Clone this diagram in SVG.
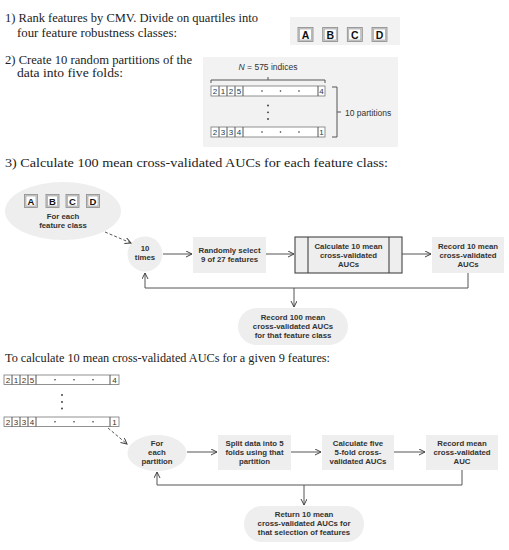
<svg xmlns="http://www.w3.org/2000/svg" width="509" height="550" viewBox="0 0 509 550">
<defs>
<marker id="ah" markerWidth="8" markerHeight="8" refX="6" refY="3" orient="auto" markerUnits="userSpaceOnUse">
<path d="M0,0 L6,3 L0,6" fill="none" stroke="#444" stroke-width="1"/>
</marker>
<style>
.serif{font-family:"Liberation Serif","DejaVu Serif",serif;font-size:12px;fill:#222}
.lbl{font-family:"Liberation Sans",Arial,sans-serif;font-size:7.8px;font-weight:bold;fill:#333;text-anchor:middle}
.sm{font-family:"Liberation Sans",Arial,sans-serif;font-size:8.5px;fill:#333}
.dig{font-family:"Liberation Sans",Arial,sans-serif;font-size:8px;fill:#333;text-anchor:middle}
.let{font-family:"Liberation Sans",Arial,sans-serif;font-weight:bold;fill:#111;text-anchor:middle}
.node{fill:#eeeeee}
.ln{fill:none;stroke:#555;stroke-width:1}
.cell{fill:#fff;stroke:#777;stroke-width:0.8}
.obox{fill:#cfcfcf;stroke:#8a8a8a;stroke-width:0.8}
.ibox{fill:#fff;stroke:#999;stroke-width:0.6}
</style>
</defs>
<rect width="509" height="550" fill="#fff"/>

<!-- headings -->
<text class="serif" x="5" y="22" textLength="253" lengthAdjust="spacingAndGlyphs">1)  Rank features by CMV. Divide on quartiles into</text>
<text class="serif" x="17" y="37" textLength="160" lengthAdjust="spacingAndGlyphs">four feature robustness classes:</text>
<text class="serif" x="5" y="64" textLength="187" lengthAdjust="spacingAndGlyphs">2)  Create 10 random partitions of the</text>
<text class="serif" x="17" y="77" textLength="106" lengthAdjust="spacingAndGlyphs">data into five folds:</text>
<text class="serif" x="5" y="167" textLength="383" lengthAdjust="spacingAndGlyphs">3) Calculate 100 mean cross-validated AUCs for each feature class:</text>
<text class="serif" x="5" y="362" textLength="325" lengthAdjust="spacingAndGlyphs">To calculate 10 mean cross-validated AUCs for a given 9 features:</text>

<!-- section 1 classes -->
<g id="classes">
<rect x="290" y="17" width="110" height="28" fill="#f2f2f2"/>
<rect class="obox" x="298" y="27.5" width="15" height="14"/><rect class="ibox" x="299.5" y="29" width="12" height="11"/><text class="let" x="305.5" y="38.6" font-size="10.5">A</text>
<rect class="obox" x="322.7" y="27.5" width="15" height="14"/><rect class="ibox" x="324.2" y="29" width="12" height="11"/><text class="let" x="330.2" y="38.6" font-size="10.5">B</text>
<rect class="obox" x="347.3" y="27.5" width="15" height="14"/><rect class="ibox" x="348.8" y="29" width="12" height="11"/><text class="let" x="354.8" y="38.6" font-size="10.5">C</text>
<rect class="obox" x="372" y="27.5" width="15" height="14"/><rect class="ibox" x="373.5" y="29" width="12" height="11"/><text class="let" x="379.5" y="38.6" font-size="10.5">D</text>
</g>

<!-- section 2 partitions -->
<g id="partitions">
<rect x="203" y="57" width="195" height="90" fill="#f2f2f2"/>
<text class="sm" x="268" y="70" text-anchor="middle"><tspan font-style="italic">N</tspan> = 575 indices</text>
<path class="ln" d="M211,83 L211,80 L325,80 L325,83 M268,80 L268,77" stroke="#888" stroke-width="0.8"/>
<g>
<rect class="cell" x="211" y="86" width="114" height="10"/>
<path class="ln" d="M219,86 V96 M227,86 V96 M235,86 V96 M243,86 V96 M318,86 V96" stroke="#777" stroke-width="0.8"/>
<text class="dig" x="215" y="94">2</text><text class="dig" x="223" y="94">1</text><text class="dig" x="231" y="94">2</text><text class="dig" x="239" y="94">5</text><text class="dig" x="321.5" y="94">4</text>
<circle cx="262" cy="91" r="0.8" fill="#333"/><circle cx="280.5" cy="91" r="0.8" fill="#333"/><circle cx="299" cy="91" r="0.8" fill="#333"/>
</g>
<circle cx="268" cy="105.5" r="0.9" fill="#333"/><circle cx="268" cy="112.3" r="0.9" fill="#333"/><circle cx="268" cy="119" r="0.9" fill="#333"/>
<g>
<rect class="cell" x="211" y="127" width="114" height="10"/>
<path class="ln" d="M219,127 V137 M227,127 V137 M235,127 V137 M243,127 V137 M318,127 V137" stroke="#777" stroke-width="0.8"/>
<text class="dig" x="215" y="135">2</text><text class="dig" x="223" y="135">3</text><text class="dig" x="231" y="135">3</text><text class="dig" x="239" y="135">4</text><text class="dig" x="321.5" y="135">1</text>
<circle cx="262" cy="132" r="0.8" fill="#333"/><circle cx="280.5" cy="132" r="0.8" fill="#333"/><circle cx="299" cy="132" r="0.8" fill="#333"/>
</g>
<path class="ln" d="M332,87 L337,87 L337,137 L332,137 M337,112 L341,112" stroke="#888" stroke-width="0.8"/>
<text class="sm" x="345" y="116">10 partitions</text>
</g>

<!-- section 3 nodes -->
<g id="featureClass">
<ellipse cx="63" cy="211" rx="58" ry="29" class="node"/>
<rect class="obox" x="24.5" y="194.5" width="13" height="13"/><rect class="ibox" x="26" y="196" width="10" height="10"/><text class="let" x="31" y="205" font-size="9.5">A</text>
<rect class="obox" x="46" y="194.5" width="13" height="13"/><rect class="ibox" x="47.5" y="196" width="10" height="10"/><text class="let" x="52.5" y="205" font-size="9.5">B</text>
<rect class="obox" x="66" y="194.5" width="13" height="13"/><rect class="ibox" x="67.5" y="196" width="10" height="10"/><text class="let" x="72.5" y="205" font-size="9.5">C</text>
<rect class="obox" x="86.5" y="194.5" width="13" height="13"/><rect class="ibox" x="88" y="196" width="10" height="10"/><text class="let" x="93" y="205" font-size="9.5">D</text>
<text class="lbl" x="63" y="218.5">For each</text>
<text class="lbl" x="63" y="227.5">feature class</text>
</g>
<g id="tenTimes">
<circle cx="145" cy="254" r="17.5" class="node"/>
<text class="lbl" x="145" y="251">10</text>
<text class="lbl" x="145" y="260">times</text>
</g>
<g id="randomSelect">
<rect x="193" y="237" width="73" height="36" class="node"/>
<text class="lbl" x="229.5" y="253">Randomly select</text>
<text class="lbl" x="229.5" y="262">9 of 27 features</text>
</g>
<g id="calc10">
<rect x="295" y="237" width="107" height="36" class="node" stroke="#444" stroke-width="1.1"/>
<path d="M308,237 V273 M389,237 V273" stroke="#444" stroke-width="1.1"/>
<text class="lbl" x="348.5" y="249">Calculate 10 mean</text>
<text class="lbl" x="348.5" y="258">cross-validated</text>
<text class="lbl" x="348.5" y="267">AUCs</text>
</g>
<g id="record10">
<rect x="432" y="237" width="72" height="36" class="node"/>
<text class="lbl" x="468" y="249">Record 10 mean</text>
<text class="lbl" x="468" y="258">cross-validated</text>
<text class="lbl" x="468" y="267">AUCs</text>
</g>
<g id="record100">
<rect x="238" y="308" width="110" height="37" rx="18.5" class="node"/>
<text class="lbl" x="293" y="319.5">Record 100 mean</text>
<text class="lbl" x="293" y="328.5">cross-validated AUCs</text>
<text class="lbl" x="293" y="337.5">for that feature class</text>
</g>

<!-- bottom partitions -->
<g id="partitions2">
<g>
<rect class="cell" x="4" y="375" width="115" height="9.5"/>
<path class="ln" d="M12,375 V384.5 M20,375 V384.5 M28,375 V384.5 M36,375 V384.5 M110,375 V384.5" stroke="#777" stroke-width="0.8"/>
<text class="dig" x="8" y="382.8">2</text><text class="dig" x="16" y="382.8">1</text><text class="dig" x="24" y="382.8">2</text><text class="dig" x="32" y="382.8">5</text><text class="dig" x="114.5" y="382.8">4</text>
<circle cx="55" cy="379.7" r="0.8" fill="#333"/><circle cx="74" cy="379.7" r="0.8" fill="#333"/><circle cx="93" cy="379.7" r="0.8" fill="#333"/>
</g>
<circle cx="62" cy="395" r="0.9" fill="#333"/><circle cx="62" cy="402" r="0.9" fill="#333"/><circle cx="62" cy="408.5" r="0.9" fill="#333"/>
<g>
<rect class="cell" x="4" y="417" width="115" height="9.5"/>
<path class="ln" d="M12,417 V426.5 M20,417 V426.5 M28,417 V426.5 M36,417 V426.5 M110,417 V426.5" stroke="#777" stroke-width="0.8"/>
<text class="dig" x="8" y="424.8">2</text><text class="dig" x="16" y="424.8">3</text><text class="dig" x="24" y="424.8">3</text><text class="dig" x="32" y="424.8">4</text><text class="dig" x="114.5" y="424.8">1</text>
<circle cx="55" cy="421.7" r="0.8" fill="#333"/><circle cx="74" cy="421.7" r="0.8" fill="#333"/><circle cx="93" cy="421.7" r="0.8" fill="#333"/>
</g>
</g>
<g id="eachPartition">
<ellipse cx="157" cy="453" rx="29.5" ry="18" class="node"/>
<text class="lbl" x="157" y="446">For</text>
<text class="lbl" x="157" y="455">each</text>
<text class="lbl" x="157" y="464">partition</text>
</g>
<g id="split">
<rect x="218" y="435" width="73" height="35" class="node"/>
<text class="lbl" x="254.5" y="446">Split data into 5</text>
<text class="lbl" x="254.5" y="455">folds using that</text>
<text class="lbl" x="254.5" y="464">partition</text>
</g>
<g id="calcFive">
<rect x="322" y="435" width="72" height="35" class="node"/>
<text class="lbl" x="358" y="446">Calculate five</text>
<text class="lbl" x="358" y="455">5-fold cross-</text>
<text class="lbl" x="358" y="464">validated AUCs</text>
</g>
<g id="recordMean">
<rect x="426" y="435" width="72" height="35" class="node"/>
<text class="lbl" x="462" y="446">Record mean</text>
<text class="lbl" x="462" y="455">cross-validated</text>
<text class="lbl" x="462" y="464">AUC</text>
</g>
<g id="return10">
<rect x="244" y="506" width="120" height="36" rx="18" class="node"/>
<text class="lbl" x="304" y="517">Return 10 mean</text>
<text class="lbl" x="304" y="526">cross-validated AUCs for</text>
<text class="lbl" x="304" y="535">that selection of features</text>
</g>

<!-- connectors -->
<g id="connectors" class="ln" stroke="#444">
<path d="M105,232 L131,243" stroke-dasharray="3,2" marker-end="url(#ah)"/>
<path d="M163,254 L192,254" marker-end="url(#ah)"/>
<path d="M266,254 L294,254" marker-end="url(#ah)"/>
<path d="M402,254 L431,254" marker-end="url(#ah)"/>
<path d="M468,273 V288 H145 V273" marker-end="url(#ah)"/>
<path d="M294,288 V307" marker-end="url(#ah)"/>
<path d="M108,428 L127,444" stroke-dasharray="3,2" marker-end="url(#ah)"/>
<path d="M187,452 L217,452" marker-end="url(#ah)"/>
<path d="M291,452 L321,452" marker-end="url(#ah)"/>
<path d="M394,452 L425,452" marker-end="url(#ah)"/>
<path d="M462,470 V485 H157 V472" marker-end="url(#ah)"/>
<path d="M304,485 V505" marker-end="url(#ah)"/>
</g>
</svg>
